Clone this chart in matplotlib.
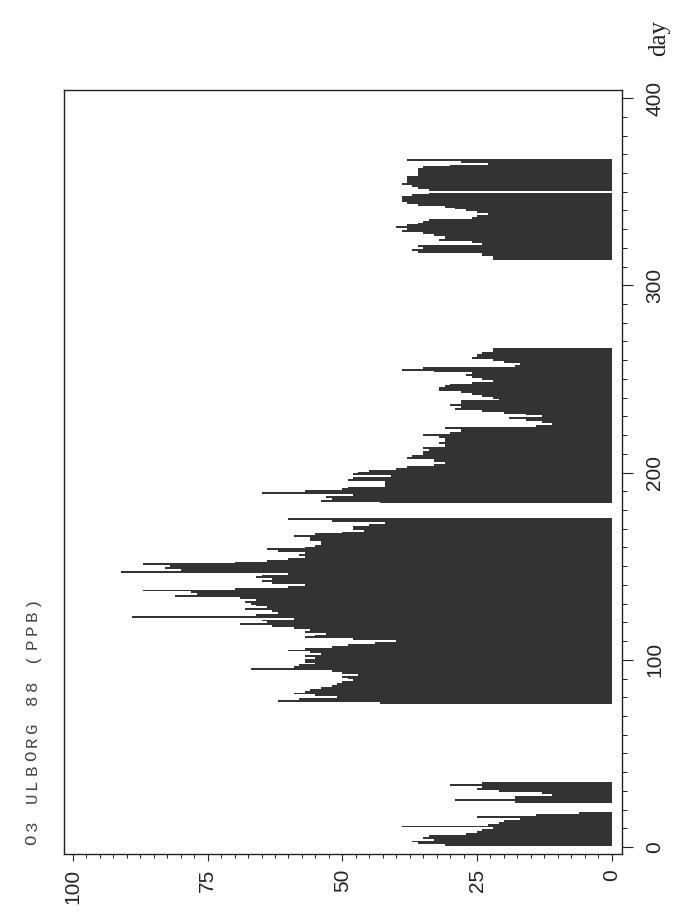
import numpy as np
import matplotlib
matplotlib.use("Agg")
import matplotlib.pyplot as plt
from matplotlib.ticker import MultipleLocator

# Daily ozone concentration (ppb) at Ulborg, 1988, for each measuring period.
# Each period: first day of year and the daily values that follow.
start_p1 = 1
o3_p1 = [31, 36, 37, 33, 35, 34, 27, 25, 24, 22, 39, 23, 21, 20, 17, 25, 14, 6]

start_p2 = 24
o3_p2 = [18, 29, 18, 18, 11, 13, 21, 25, 24, 30, 24]

start_p3 = 77
o3_p3 = [43, 62, 58, 51, 55, 59, 57, 56, 54, 52,
         51, 50, 48, 49, 50, 47, 50, 52, 67, 59,
         58, 55, 57, 57, 55, 57, 54, 56, 60, 57,
         52, 49, 44, 40, 48, 57, 55, 53, 57, 56,
         59, 63, 69, 64, 65, 59, 89, 66, 62, 63,
         68, 64, 66, 67, 68, 66, 69, 81, 77, 78,
         87, 70, 60, 57, 63, 65, 63, 66, 65, 60,
         91, 80, 83, 82, 87, 70, 64, 60, 57, 58,
         57, 62, 64, 57, 55, 54, 54, 56, 56, 59,
         55, 50, 46, 48, 48, 45, 42, 52, 60]

start_p4 = 184
o3_p4 = [43, 54, 52, 53, 48, 65, 57, 50, 49, 42,
         42, 42, 49, 48, 41, 48, 47, 45, 40, 38,
         33, 31, 33, 33, 38, 37, 35, 35, 34, 35,
         31, 31, 32, 31, 31, 32, 35, 30, 28, 28,
         31, 14, 11, 13, 16, 19, 13, 16, 20, 24,
         29, 28, 30, 28, 28, 21, 22, 24, 26, 28,
         32, 32, 31, 30, 26, 22, 24, 26, 27, 26,
         33, 39, 35, 18, 17, 20, 22, 26, 25, 25,
         24, 22, 22]

start_p5 = 314
o3_p5 = [22, 22, 24, 24, 36, 37, 35, 36, 24, 26,
         32, 31, 31, 33, 35, 39, 38, 40, 38, 36,
         35, 34, 26, 25, 23, 25, 27, 29, 31, 36,
         38, 39, 39, 39, 37, 34, 0, 34, 36, 37,
         39, 38, 38, 38, 38, 36, 36, 36, 36, 35,
         30, 23, 28, 38]

periods = [(start_p1, o3_p1), (start_p2, o3_p2), (start_p3, o3_p3),
           (start_p4, o3_p4), (start_p5, o3_p5)]

value_ticks = [0, 25, 50, 75, 100]
day_ticks = [0, 100, 200, 300, 400]

W, H = 675, 923
fig = plt.figure(figsize=(W / 100, H / 100), dpi=100)
fig.patch.set_facecolor("white")

left, right, top, bottom = 63.5, 621.5, 90, 854
ax = fig.add_axes([left / W, 1 - bottom / H, (right - left) / W, (bottom - top) / H])

bar_color = "#333333"
for start, vals in periods:
    days = np.arange(start, start + len(vals))
    ax.barh(days, vals, height=1.0, color=bar_color, linewidth=0)

# concentration axis runs right-to-left, day axis bottom-to-top
ax.set_xlim(101.76, -1.82)
ax.set_ylim(-3.7, 404.3)

ax.set_xticks(value_ticks)
ax.set_xticklabels([str(v) for v in value_ticks])
ax.xaxis.set_minor_locator(MultipleLocator(2.5))
ax.set_yticks(day_ticks)
ax.set_yticklabels([str(d) for d in day_ticks])
ax.yaxis.set_minor_locator(MultipleLocator(10))
ax.yaxis.tick_right()

ax.tick_params(axis="x", which="major", direction="out", length=4.8, width=0.8,
               pad=6, labelsize=15, labelrotation=90, colors="#222222")
ax.tick_params(axis="x", which="minor", direction="out", length=3.0, width=0.7,
               colors="#222222")
ax.tick_params(axis="y", which="major", direction="out", length=8, width=0.8,
               pad=9, labelsize=15, labelrotation=90, colors="#222222")
ax.tick_params(axis="y", which="minor", direction="out", length=3.8, width=0.7,
               colors="#222222")
for lbl in ax.get_xticklabels() + ax.get_yticklabels():
    lbl.set_fontfamily("Liberation Sans")
for lbl in ax.get_yticklabels():
    lbl.set_verticalalignment("center")

for sp in ax.spines.values():
    sp.set_linewidth(1.0)
    sp.set_color("#222222")

# printer-style title, one character per cell, reading upward
title = "O3 ULBORG 88 (PPB)"
pitch = 14.0
for i, ch in enumerate(title):
    if ch == " ":
        continue
    fig.text(32 / W, 1 - (840 - i * pitch) / H, ch, rotation=90,
             ha="center", va="center", fontsize=12.5,
             family="Liberation Mono", color="#444444")

# axis name beside the last day label
fig.text(659 / W, 1 - 38 / H, "day", rotation=90, ha="center", va="center",
         fontsize=18, family="Liberation Serif", color="#222222")

fig.savefig("out.png", dpi=100, facecolor="white")
